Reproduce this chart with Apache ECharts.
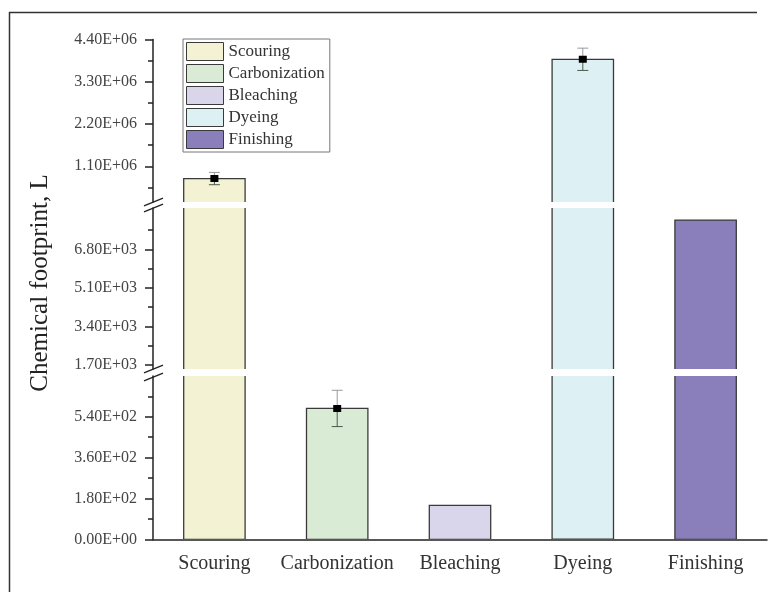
<!DOCTYPE html>
<html>
<head>
<meta charset="utf-8">
<script src="https://cdn.jsdelivr.net/npm/echarts@6/dist/echarts.min.js"></script>
<style>
  html, body { margin: 0; padding: 0; background: #fff; }
  #main { width: 771px; height: 592px; }
</style>
</head>
<body>
<div id="main"></div>
<script>
// data
const categories = ['Scouring', 'Carbonization', 'Bleaching', 'Dyeing', 'Finishing'];
const footprint = [7.8e5, 577, 150, 3.885e6, 8090];
const errors = [1.6e5, 80, 0, 2.9e5, 0];

// broken y axis: three segments, top to bottom
const topTicks = [1.1e6, 2.2e6, 3.3e6, 4.4e6];
const topMinor = [5.5e5, 1.65e6, 2.75e6, 3.85e6];
const midTicks = [1700, 3400, 5100, 6800];
const midMinor = [2550, 4250, 5950, 7650];
const lowTicks = [0, 180, 360, 540];
const lowMinor = [90, 270, 450, 630];
const segRange = [[1.7e5, 4.4e6], [1530, 8620], [0, 720]];

const colors = ['#f3f2d3', '#d9ebd5', '#d9d5eb', '#ddf0f3', '#8b7fbb'];
const FONT = '"Liberation Serif", "Times New Roman", serif';

// layout of the three plot segments
const segs = [
  { top: 39.5, height: 162.5 },
  { top: 208, height: 161 },
  { top: 376, height: 163.3 }
];
const LEFT = 153, RIGHT = 4;

function sci(v) {
  const parts = Number(v).toExponential(2).split('e');
  let e = parseInt(parts[1], 10);
  const sign = e < 0 ? '-' : '+';
  e = Math.abs(e);
  return parts[0] + 'E' + sign + (e < 10 ? '0' + e : '' + e);
}

function renderBar(params, api) {
  const c = api.value(0);
  const v = api.value(1);
  const top = api.coord([c, v]);
  const base = api.coord([c, 0]);
  const w = api.size([1, 0])[0] * 0.5;
  return {
    type: 'rect',
    shape: { x: top[0] - w / 2, y: top[1], width: w, height: base[1] - top[1] },
    style: { fill: api.visual('color'), stroke: '#3a3a3a', lineWidth: 1.3 }
  };
}

function renderErr(params, api) {
  const c = api.value(0);
  const v = api.value(1);
  const e = api.value(2);
  const p = api.coord([c, v]);
  const hi = api.coord([c, v + e]);
  const lo = api.coord([c, v - e]);
  const cap = 5.5;
  return {
    type: 'group',
    children: [
      { type: 'line', shape: { x1: p[0], y1: hi[1], x2: p[0], y2: p[1] }, style: { stroke: '#9a9a9a', lineWidth: 1 } },
      { type: 'line', shape: { x1: p[0] - cap, y1: hi[1], x2: p[0] + cap, y2: hi[1] }, style: { stroke: '#9a9a9a', lineWidth: 1 } },
      { type: 'line', shape: { x1: p[0], y1: p[1], x2: p[0], y2: lo[1] }, style: { stroke: '#4a5a4a', lineWidth: 1 } },
      { type: 'line', shape: { x1: p[0] - cap, y1: lo[1], x2: p[0] + cap, y2: lo[1] }, style: { stroke: '#4a5a4a', lineWidth: 1 } },
      { type: 'rect', shape: { x: p[0] - 4, y: p[1] - 3.5, width: 8, height: 7 }, style: { fill: '#000' } }
    ]
  };
}

const errData = categories
  .map((c, i) => [i, footprint[i], errors[i]])
  .filter(d => d[2] > 0);

const majors = [topTicks, midTicks, lowTicks];
const minors = [topMinor, midMinor, lowMinor];

const grids = [], xAxes = [], yAxes = [], series = [];
segs.forEach((s, g) => {
  grids.push({ left: LEFT, right: RIGHT, top: s.top, height: s.height });
  const isBottom = g === segs.length - 1;
  xAxes.push({
    type: 'category',
    gridIndex: g,
    data: categories,
    show: isBottom,
    axisLine: { lineStyle: { color: '#222', width: 1.5 } },
    axisTick: { alignWithLabel: true, length: 7, lineStyle: { color: '#222', width: 1.5 } },
    axisLabel: { interval: 0, fontFamily: FONT, fontSize: 20, color: '#333', margin: 14 },
    splitLine: { show: false }
  });
  yAxes.push({
    type: 'value',
    gridIndex: g,
    position: 'left',
    min: segRange[g][0],
    max: segRange[g][1],
    axisLine: { show: true, lineStyle: { color: '#222', width: 1.5 } },
    axisTick: { show: true, length: 8, customValues: majors[g], lineStyle: { color: '#222', width: 1.5 } },
    axisLabel: {
      customValues: majors[g], formatter: sci,
      fontFamily: FONT, fontSize: 16, color: '#444', margin: 16
    },
    splitLine: { show: false }
  });
  // minor ticks
  yAxes.push({
    type: 'value',
    gridIndex: g,
    position: 'left',
    offset: 0,
    min: segRange[g][0],
    max: segRange[g][1],
    axisLine: { show: false },
    axisTick: { show: true, length: 5, customValues: minors[g], lineStyle: { color: '#222', width: 1.5 } },
    axisLabel: { show: false },
    splitLine: { show: false }
  });
  categories.forEach((name, i) => {
    series.push({
      type: 'custom',
      name: name,
      xAxisIndex: g,
      yAxisIndex: g * 2,
      clip: true,
      itemStyle: { color: colors[i] },
      renderItem: renderBar,
      encode: { x: 0, y: 1 },
      data: [[i, footprint[i]]],
      z: 2
    });
  });
  series.push({
    type: 'custom',
    xAxisIndex: g,
    yAxisIndex: g * 2,
    clip: true,
    renderItem: renderErr,
    encode: { x: 0, y: 1 },
    data: errData,
    z: 3
  });
});

// break marks on the y axis
const breakMarks = [];
[segs[0].top + segs[0].height, segs[1].top, segs[1].top + segs[1].height, segs[2].top + 1].forEach(y => {
  breakMarks.push({
    type: 'line',
    shape: { x1: LEFT - 9, y1: y + 3.8, x2: LEFT + 10, y2: y - 3.8 },
    style: { stroke: '#222', lineWidth: 1.3 }
  });
});

const chart = echarts.init(document.getElementById('main'), null, { renderer: 'canvas' });
chart.setOption({
  animation: false,
  backgroundColor: '#fff',
  grid: grids,
  xAxis: xAxes,
  yAxis: yAxes,
  legend: {
    data: categories,
    orient: 'vertical',
    left: 183,
    top: 39,
    icon: 'rect',
    itemWidth: 37,
    itemHeight: 18,
    itemGap: 3,
    padding: [3, 5, 3, 3],
    borderColor: '#777',
    borderWidth: 1,
    itemStyle: { borderColor: '#3a3a3a', borderWidth: 1 },
    textStyle: { fontFamily: FONT, fontSize: 17, color: '#333' }
  },
  graphic: [
    {
      type: 'text',
      x: 40,
      y: 283,
      rotation: Math.PI / 2,
      style: {
        text: 'Chemical footprint, L',
        font: '25px ' + FONT,
        fill: '#222',
        align: 'center',
        verticalAlign: 'middle'
      }
    },
    { type: 'line', shape: { x1: 9.5, y1: 12, x2: 9.5, y2: 592 }, style: { stroke: '#333', lineWidth: 1.5 } },
    { type: 'line', shape: { x1: 9, y1: 12.5, x2: 757, y2: 12.5 }, style: { stroke: '#333', lineWidth: 1.5 } }
  ].concat(breakMarks),
  series: series
});
</script>
</body>
</html>
